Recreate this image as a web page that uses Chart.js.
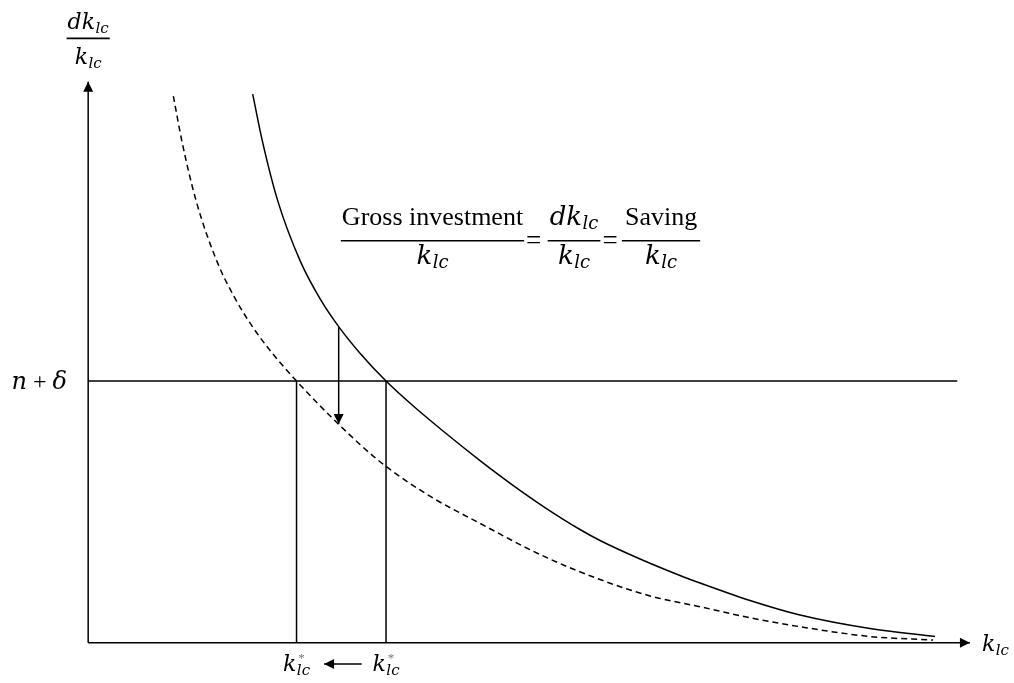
<!DOCTYPE html>
<html>
<head>
<meta charset="utf-8">
<script src="https://cdn.jsdelivr.net/npm/chart.js@4.4.1/dist/chart.umd.min.js"></script>
<style>
  html, body { margin: 0; padding: 0; background: #ffffff; }
  #wrap { width: 1014px; height: 683px; }
</style>
</head>
<body>
<div id="wrap"><canvas id="chart" width="1014" height="683"></canvas></div>
<script>
// Gross investment / k_lc (= saving / k_lc) before the shift — solid curve
const solidK = [1.866, 1.972, 2.145, 2.403, 2.629, 2.841, 3.083, 3.378, 3.707, 4.066, 4.444,
                4.822, 5.181, 5.578, 5.805, 6.259, 6.712, 6.939, 7.506, 8.073, 8.867, 9.605];
const solidRate = [9.782, 8.969, 7.905, 6.812, 6.134, 5.635, 5.161, 4.665, 4.192, 3.720, 3.247,
                   2.801, 2.409, 2.017, 1.821, 1.491, 1.197, 1.063, 0.751, 0.492, 0.251, 0.109];

// The same schedule after it shifts down — dashed curve
const dashedK = [0.966, 1.063, 1.224, 1.462, 1.672, 1.868, 2.092, 2.363, 2.841, 3.310,
                 3.877, 4.444, 5.125, 5.768, 6.372, 6.939, 7.506, 8.073, 8.867, 9.582];
const dashedRate = [9.747, 8.941, 7.880, 6.794, 6.122, 5.624, 5.153, 4.665, 3.893, 3.226,
                    2.611, 2.127, 1.571, 1.147, 0.833, 0.640, 0.444, 0.284, 0.109, 0.046];

// n + δ line and the two steady states
const breakEvenRate = 4.665;
const breakEvenK    = [0, 9.857];
const steadyStateK  = [2.363, 3.378];

// Axis extents (arrow tips)
const axisKEnd    = 10.0;
const axisRateEnd = 10.0;

// Shift arrows: downward between the curves, leftward between the steady states
const shiftArrowK     = 2.841;
const shiftArrowRates = [5.635, 3.90];
const moveArrowK      = [3.102, 2.675];
const moveArrowRate   = -0.38;

const pts = (xs, ys) => xs.map((x, i) => ({ x: x, y: ys[i] }));
const seg = (x0, y0, x1, y1) => [{ x: x0, y: y0 }, { x: x1, y: y1 }];

const INK = '#000000';
const lineDefaults = { showLine: true, borderColor: INK, borderWidth: 1.5, pointRadius: 0, fill: false };

const datasets = [
  Object.assign({ data: pts(solidK, solidRate), cubicInterpolationMode: 'monotone' }, lineDefaults),
  Object.assign({ data: pts(dashedK, dashedRate), cubicInterpolationMode: 'monotone', borderDash: [6, 4] }, lineDefaults),
  Object.assign({ data: seg(breakEvenK[0], breakEvenRate, breakEvenK[1], breakEvenRate) }, lineDefaults),
  Object.assign({ data: seg(steadyStateK[0], 0, steadyStateK[0], breakEvenRate) }, lineDefaults),
  Object.assign({ data: seg(steadyStateK[1], 0, steadyStateK[1], breakEvenRate) }, lineDefaults),
  Object.assign({ data: seg(0, 0, 0, axisRateEnd) }, lineDefaults),
  Object.assign({ data: seg(0, 0, axisKEnd, 0) }, lineDefaults),
  Object.assign({ data: seg(shiftArrowK, shiftArrowRates[0], shiftArrowK, shiftArrowRates[1]) }, lineDefaults),
  Object.assign({ data: seg(moveArrowK[0], moveArrowRate, moveArrowK[1], moveArrowRate) }, lineDefaults)
];

// ---- small math typesetter on the canvas ----
const IT = 'DejaVu Serif';
const RM = 'Liberation Serif';

function tokFont(tok, size) {
  if (tok.s === 'it') return 'italic ' + size + 'px "' + IT + '"';
  return size + 'px "' + RM + '"';
}
function smallFont(size) { return 'italic ' + Math.round(size * 0.68) + 'px "' + IT + '"'; }

function measureTokens(ctx, toks, size) {
  let w = 0;
  toks.forEach(t => {
    if (t.gap) { w += t.gap; return; }
    ctx.font = tokFont(t, size);
    w += ctx.measureText(t.t).width;
    let extra = 0;
    if (t.sub) { ctx.font = smallFont(size); extra = Math.max(extra, ctx.measureText(t.sub).width + 0.5); }
    if (t.sup) { ctx.font = Math.round(size * 0.6) + 'px "' + RM + '"'; extra = Math.max(extra, ctx.measureText(t.sup).width + 2); }
    w += extra;
  });
  return w;
}

function drawTokens(ctx, toks, x, base, size) {
  ctx.textBaseline = 'alphabetic';
  ctx.textAlign = 'left';
  toks.forEach(t => {
    if (t.gap) { x += t.gap; return; }
    ctx.font = tokFont(t, size);
    ctx.fillStyle = INK;
    ctx.fillText(t.t, x, base);
    x += ctx.measureText(t.t).width;
    let extra = 0;
    if (t.sub) {
      ctx.font = smallFont(size);
      ctx.fillStyle = INK;
      ctx.fillText(t.sub, x + 0.5, base + size * 0.18);
      extra = Math.max(extra, ctx.measureText(t.sub).width + 0.5);
    }
    if (t.sup) {
      ctx.font = Math.round(size * 0.6) + 'px "' + RM + '"';
      ctx.fillStyle = t.supColor || INK;
      ctx.fillText(t.sup, x + 2, base - size * 0.42);
      extra = Math.max(extra, ctx.measureText(t.sup).width + 2);
    }
    x += extra;
  });
}

function drawFraction(ctx, f, cx, cy) {
  const wn = measureTokens(ctx, f.num, f.size);
  const wd = measureTokens(ctx, f.den, f.size);
  const w = Math.max(wn, wd) + 2 * f.pad;
  ctx.save();
  ctx.strokeStyle = INK;
  ctx.lineWidth = 1.6;
  ctx.beginPath();
  ctx.moveTo(cx - w / 2, cy);
  ctx.lineTo(cx + w / 2, cy);
  ctx.stroke();
  drawTokens(ctx, f.num, cx - wn / 2, cy - f.numUp, f.size);
  drawTokens(ctx, f.den, cx - wd / 2, cy + f.denDown, f.size);
  ctx.restore();
}

const kLc   = { t: 'k', s: 'it', sub: 'lc' };
const dkLc  = [{ t: 'd', s: 'it' }, { t: 'k', s: 'it', sub: 'lc' }];
const kStar = [{ t: 'k', s: 'it', sub: 'lc', sup: '*', supColor: '#8a6c6c' }];

// Labels: where each piece of text sits, in axis units
const fractionLabels = [
  { x: 0.0,   y: 10.776, num: dkLc, den: [kLc], size: 22, pad: 1, numUp: 9, denDown: 26 },
  { x: 3.905, y: 7.167,  num: [{ t: 'Gross investment', s: 'rm' }], den: [kLc], size: 26, pad: 1, numUp: 16, denDown: 23 },
  { x: 5.510, y: 7.167,  num: dkLc, den: [kLc], size: 26, pad: 2, numUp: 16, denDown: 23 },
  { x: 6.497, y: 7.167,  num: [{ t: 'Saving', s: 'rm' }], den: [kLc], size: 26, pad: 3, numUp: 16, denDown: 23 }
];
const equalsK = [5.051, 5.919];
const equalsRate = 7.167;

const textLabels = [
  { x: -0.24, y: breakEvenRate, toks: [{ t: 'n', s: 'it' }, { gap: 6 }, { t: '+', s: 'rm' }, { gap: 6 }, { t: 'δ', s: 'it' }], size: 24, align: 'right', dy: 8 },
  { x: steadyStateK[0], y: -0.506, toks: kStar, size: 22, align: 'center', dy: 0 },
  { x: steadyStateK[1], y: -0.506, toks: kStar, size: 22, align: 'center', dy: 0 },
  { x: 10.137, y: -0.15, toks: [kLc], size: 22, align: 'left', dy: 0 }
];

function arrowHead(ctx, tipX, tipY, fromX, fromY, len, half) {
  const a = Math.atan2(tipY - fromY, tipX - fromX);
  const bx = tipX - len * Math.cos(a), by = tipY - len * Math.sin(a);
  const nx = -Math.sin(a) * half, ny = Math.cos(a) * half;
  ctx.beginPath();
  ctx.moveTo(tipX, tipY);
  ctx.lineTo(bx + nx, by + ny);
  ctx.lineTo(bx - nx, by - ny);
  ctx.closePath();
  ctx.fill();
}

const annotate = {
  id: 'annotate',
  afterDatasetsDraw(chart) {
    const ctx = chart.ctx;
    const X = v => chart.scales.x.getPixelForValue(v);
    const Y = v => chart.scales.y.getPixelForValue(v);
    ctx.save();
    ctx.fillStyle = INK;
    // arrow heads
    arrowHead(ctx, X(0), Y(axisRateEnd), X(0), Y(0), 10, 5);
    arrowHead(ctx, X(axisKEnd), Y(0), X(0), Y(0), 10, 5);
    arrowHead(ctx, X(shiftArrowK), Y(shiftArrowRates[1]), X(shiftArrowK), Y(shiftArrowRates[0]), 10, 5);
    arrowHead(ctx, X(moveArrowK[1]), Y(moveArrowRate), X(moveArrowK[0]), Y(moveArrowRate), 10, 5);

    fractionLabels.forEach(f => drawFraction(ctx, f, X(f.x), Y(f.y)));

    ctx.font = '27px "' + RM + '"';
    ctx.textAlign = 'center';
    ctx.textBaseline = 'alphabetic';
    equalsK.forEach(k => ctx.fillText('=', X(k), Y(equalsRate) + 8));

    textLabels.forEach(l => {
      const w = measureTokens(ctx, l.toks, l.size);
      let x = X(l.x);
      if (l.align === 'center') x -= w / 2;
      else if (l.align === 'right') x -= w;
      drawTokens(ctx, l.toks, x, Y(l.y) + l.dy, l.size);
    });
    ctx.restore();
  }
};

new Chart(document.getElementById('chart').getContext('2d'), {
  type: 'scatter',
  data: { datasets: datasets },
  options: {
    responsive: false,
    animation: false,
    devicePixelRatio: 1,
    layout: { padding: 0 },
    plugins: { legend: { display: false }, tooltip: { enabled: false } },
    scales: {
      x: { type: 'linear', min: -1.0, max: 10.5, display: false },
      y: { type: 'linear', min: -0.72, max: 11.46, display: false }
    }
  },
  plugins: [annotate]
});
</script>
</body>
</html>
